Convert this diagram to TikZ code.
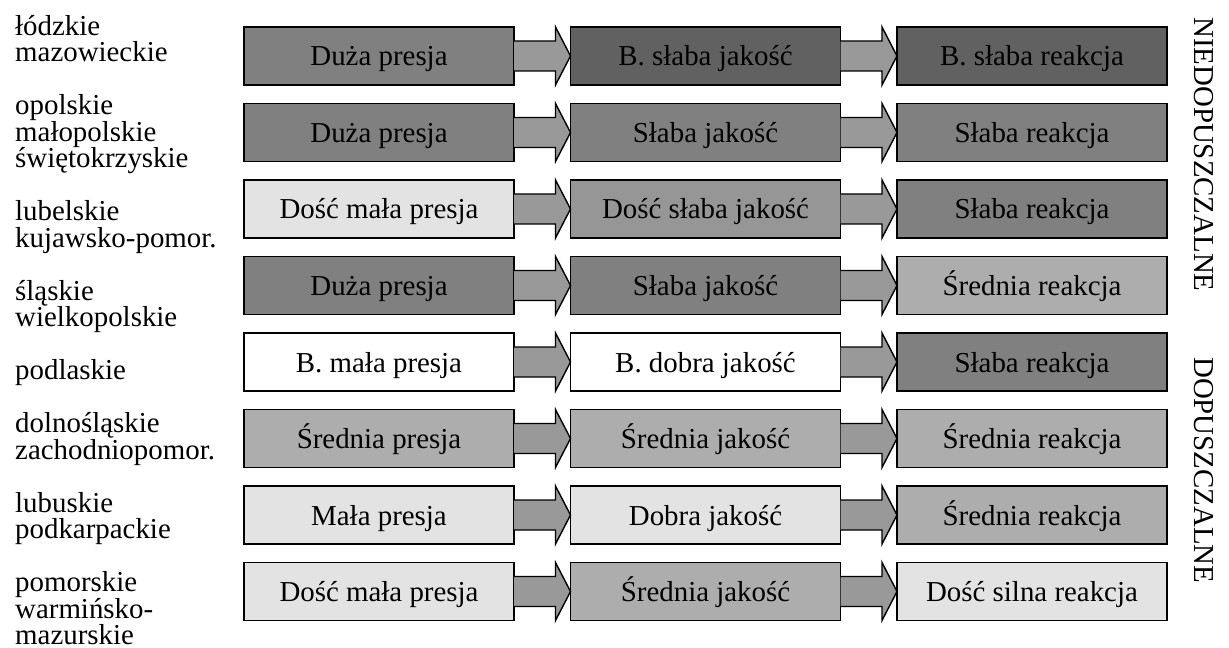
\documentclass[tikz,border=0pt]{standalone}
\usepackage{fontspec}
\setmainfont{Liberation Serif}
\usetikzlibrary{calc}
\definecolor{cA}{HTML}{616161}
\definecolor{cB}{HTML}{808080}
\definecolor{cC}{HTML}{969696}
\definecolor{cD}{HTML}{ADADAD}
\definecolor{cE}{HTML}{E3E3E3}
\definecolor{arrowgray}{HTML}{999999}
\newcommand\flowarrow[2]{\draw[flow] ($(#1.east)+(0,-15)$) -- ($(#2.west)+(-15,-15)$) -- ($(#2.west)+(-15,-29)$) -- (#2.west) -- ($(#2.west)+(-15,29)$) -- ($(#2.west)+(-15,15)$) -- ($(#1.east)+(0,15)$);}
\newcommand\labstrut{\rule{0pt}{22bp}}
\newcommand\labfont{\fontsize{29}{26.5}\selectfont\lineskiplimit=-50pt\relax}
\begin{document}
\begin{tikzpicture}[x=1bp,y=-1bp,
  box/.style={draw=black, line width=1.4bp, minimum width=270bp, minimum height=58bp,
    inner sep=0pt, outer sep=0pt, text height=20bp, text depth=0pt, anchor=north west,
    font=\fontsize{29}{29}\selectfont},
  lab/.style={anchor=north west, inner sep=0pt, align=left, font=\labfont},
  side/.style={anchor=base west, inner sep=0pt, rotate=-90, font=\fontsize{29}{29}\selectfont},
  flow/.style={draw=black, line width=1.4bp, fill=arrowgray, line join=miter}
]
\useasboundingbox (0,0) rectangle (1229,648);

% row 1
\node[box, fill=cB] (r1a) at (244,27) {Duża presja};
\node[box, fill=cA] (r1b) at (570.5,27) {B. słaba jakość};
\node[box, fill=cA] (r1c) at (897,27) {B. słaba reakcja};
% row 2
\node[box, fill=cB] (r2a) at (244,103.5) {Duża presja};
\node[box, fill=cB] (r2b) at (570.5,103.5) {Słaba jakość};
\node[box, fill=cB] (r2c) at (897,103.5) {Słaba reakcja};
% row 3
\node[box, fill=cE] (r3a) at (244,180) {Dość mała presja};
\node[box, fill=cC] (r3b) at (570.5,180) {Dość słaba jakość};
\node[box, fill=cB] (r3c) at (897,180) {Słaba reakcja};
% row 4
\node[box, fill=cB] (r4a) at (244,256.5) {Duża presja};
\node[box, fill=cB] (r4b) at (570.5,256.5) {Słaba jakość};
\node[box, fill=cD] (r4c) at (897,256.5) {Średnia reakcja};
% row 5
\node[box, fill=white] (r5a) at (244,333) {B. mała presja};
\node[box, fill=white] (r5b) at (570.5,333) {B. dobra jakość};
\node[box, fill=cB] (r5c) at (897,333) {Słaba reakcja};
% row 6
\node[box, fill=cD] (r6a) at (244,409.5) {Średnia presja};
\node[box, fill=cD] (r6b) at (570.5,409.5) {Średnia jakość};
\node[box, fill=cD] (r6c) at (897,409.5) {Średnia reakcja};
% row 7
\node[box, fill=cE] (r7a) at (244,486) {Mała presja};
\node[box, fill=cE] (r7b) at (570.5,486) {Dobra jakość};
\node[box, fill=cD] (r7c) at (897,486) {Średnia reakcja};
% row 8
\node[box, fill=cE] (r8a) at (244,562.5) {Dość mała presja};
\node[box, fill=cD] (r8b) at (570.5,562.5) {Średnia jakość};
\node[box, fill=cE] (r8c) at (897,562.5) {Dość silna reakcja};

\foreach \r in {1,...,8}{
  \flowarrow{r\r a}{r\r b}
  \flowarrow{r\r b}{r\r c}
}

% left labels: one column, line pitch 26.5, first baseline at 35
\node[lab] (l1) at (15,13)    {\labstrut łódzkie\\mazowieckie};
\node[lab] (l2) at (15,92.5)  {\labstrut opolskie\\małopolskie\\świętokrzyskie};
\node[lab] (l3) at (15,198.5) {\labstrut lubelskie\\kujawsko-pomor.};
\node[lab] (l4) at (15,278)   {\labstrut śląskie\\wielkopolskie};
\node[lab] (l5) at (15,357.5) {\labstrut podlaskie};
\node[lab] (l6) at (15,410.5) {\labstrut dolnośląskie\\zachodniopomor.};
\node[lab] (l7) at (15,490)   {\labstrut lubuskie\\podkarpackie};
\node[lab] (l8) at (15,569.5) {\labstrut pomorskie\\warmińsko-\\mazurskie};

% right side labels
\node[side] (nd) at (1194,17) {NIEDOPUSZCZALNE};
\node[side] (dd) at (1194,357) {DOPUSZCZALNE};
\end{tikzpicture}
\end{document}
